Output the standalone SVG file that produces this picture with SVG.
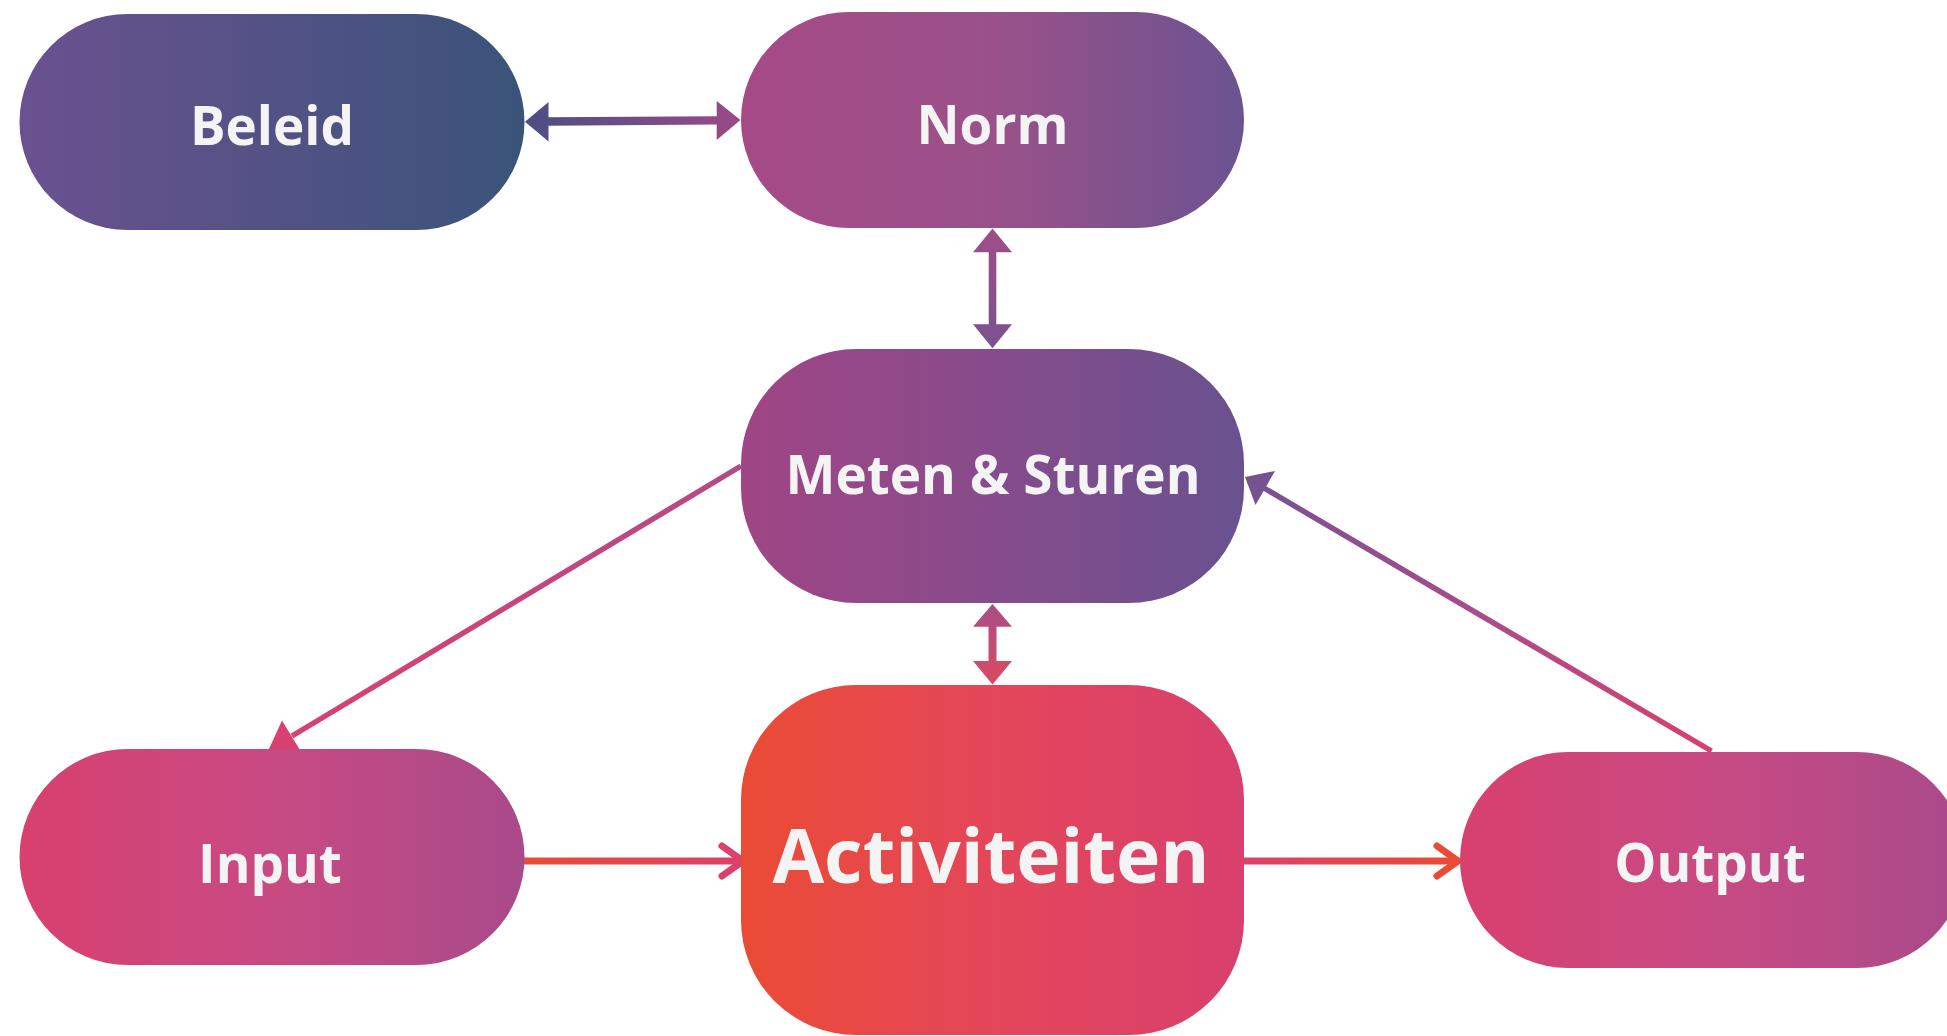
<svg xmlns="http://www.w3.org/2000/svg" width="1947" height="1036" viewBox="0 0 1947 1036">
  <style>
    .label { font-family: "Open Sans", "Noto Sans", "Liberation Sans", sans-serif; font-weight: 700; fill: #F4F4F4; text-anchor: middle; }
    .lbl53 { font-size: 53px; }
    .lbl75 { font-size: 75px; }
    .diag { fill: none; stroke-width: 5.5; }
    .flow { fill: none; stroke-width: 7; stroke-linecap: round; }
    .chev { fill: none; stroke-width: 7; stroke-linecap: round; stroke-linejoin: miter; }
  </style>
  <defs>
    <linearGradient id="gBeleid" x1="0" y1="0" x2="1" y2="0">
      <stop offset="0" stop-color="#6B5190"/>
      <stop offset="1" stop-color="#3A5379"/>
    </linearGradient>
    <linearGradient id="gNorm" x1="0" y1="0" x2="1" y2="0">
      <stop offset="0" stop-color="#A64A87"/>
      <stop offset="0.5" stop-color="#9A5189"/>
      <stop offset="1" stop-color="#6B5391"/>
    </linearGradient>
    <linearGradient id="gMeten" x1="0" y1="0" x2="1" y2="0">
      <stop offset="0" stop-color="#A04585"/>
      <stop offset="0.4" stop-color="#8C4A8A"/>
      <stop offset="1" stop-color="#69518F"/>
    </linearGradient>
    <linearGradient id="gAct" x1="0" y1="0" x2="1" y2="0">
      <stop offset="0" stop-color="#EA4B35"/>
      <stop offset="0.5" stop-color="#E4465A"/>
      <stop offset="1" stop-color="#D8406D"/>
    </linearGradient>
    <linearGradient id="gInput" x1="0" y1="0" x2="1" y2="0">
      <stop offset="0" stop-color="#D8406E"/>
      <stop offset="0.5" stop-color="#C84A83"/>
      <stop offset="1" stop-color="#A94A8A"/>
    </linearGradient>
    <linearGradient id="gOutput" x1="0" y1="0" x2="1" y2="0">
      <stop offset="0" stop-color="#D8406E"/>
      <stop offset="0.5" stop-color="#C84A83"/>
      <stop offset="1" stop-color="#A94A8A"/>
    </linearGradient>
    <linearGradient id="cBN" gradientUnits="userSpaceOnUse" x1="525" y1="0" x2="740" y2="0">
      <stop offset="0" stop-color="#4A4F82"/>
      <stop offset="1" stop-color="#9A4A88"/>
    </linearGradient>
    <linearGradient id="cNM" gradientUnits="userSpaceOnUse" x1="0" y1="228" x2="0" y2="349">
      <stop offset="0" stop-color="#A04D89"/>
      <stop offset="1" stop-color="#7B5190"/>
    </linearGradient>
    <linearGradient id="cMA" gradientUnits="userSpaceOnUse" x1="0" y1="604" x2="0" y2="685">
      <stop offset="0" stop-color="#A84E86"/>
      <stop offset="1" stop-color="#DC4A60"/>
    </linearGradient>
    <linearGradient id="cMI" gradientUnits="userSpaceOnUse" x1="741" y1="466" x2="285" y2="740">
      <stop offset="0" stop-color="#B44A88"/>
      <stop offset="1" stop-color="#D8416F"/>
    </linearGradient>
    <linearGradient id="cOM" gradientUnits="userSpaceOnUse" x1="1712" y1="751" x2="1250" y2="480">
      <stop offset="0" stop-color="#D8406E"/>
      <stop offset="0.5" stop-color="#A84D8A"/>
      <stop offset="1" stop-color="#765290"/>
    </linearGradient>
    <linearGradient id="cIA" gradientUnits="userSpaceOnUse" x1="521" y1="0" x2="744" y2="0">
      <stop offset="0" stop-color="#EA4B35"/>
      <stop offset="1" stop-color="#DB416A"/>
    </linearGradient>
    <linearGradient id="cAO" gradientUnits="userSpaceOnUse" x1="1244" y1="0" x2="1459" y2="0">
      <stop offset="0" stop-color="#DB416A"/>
      <stop offset="1" stop-color="#EA4B35"/>
    </linearGradient>
  </defs>

  <rect width="1947" height="1036" fill="#FFFFFF"/>

  <g id="connectors">
    <!-- Beleid <-> Norm -->
    <polygon id="c-beleid-norm" fill="url(#cBN)" points="525,121.7 548.5,102 548.5,117.3 716.7,116.2 716.7,101 740.5,120 716.7,140 716.7,124.5 548.5,125.8 548.5,141.5"/>
    <!-- Norm <-> Meten & Sturen -->
    <polygon id="c-norm-meten" fill="url(#cNM)" points="992.5,228.5 1012,252.3 996.3,252.3 996.3,324.3 1012,324.3 992.5,348.3 973,324.3 988.7,324.3 988.7,252.3 973,252.3"/>
    <!-- Meten & Sturen <-> Activiteiten -->
    <polygon id="c-meten-act" fill="url(#cMA)" points="992.5,604 1012,626.7 996.5,626.7 996.5,661 1012,661 992.5,684.5 973,661 988.5,661 988.5,626.7 973,626.7"/>
    <!-- Meten & Sturen -> Input -->
    <g id="c-meten-input">
      <line class="diag" stroke="url(#cMI)" x1="741" y1="466" x2="292" y2="736"/>
      <polygon fill="#D8416F" points="282,720.5 301.5,752.5 268,751"/>
    </g>
    <!-- Output -> Meten & Sturen -->
    <g id="c-output-meten">
      <line class="diag" stroke="url(#cOM)" x1="1711.5" y1="751" x2="1264" y2="488"/>
      <polygon fill="#775290" points="1275,471 1255.5,505 1245,477"/>
    </g>
    <!-- Input -> Activiteiten -->
    <g id="c-input-act">
      <line class="flow" stroke="url(#cIA)" x1="521" y1="861" x2="742" y2="861"/>
      <polyline class="chev" stroke="#DB416A" points="722,846 743,861 722,876"/>
    </g>
    <!-- Activiteiten -> Output -->
    <g id="c-act-output">
      <line x1="1244" y1="861" x2="1457" y2="861" stroke="url(#cAO)" stroke-width="7"/>
      <polyline class="chev" stroke="#EA4B35" points="1437,846 1458,861 1437,876"/>
    </g>
  </g>

  <g id="node-beleid">
    <rect x="19.5" y="14" width="505" height="216" rx="108" ry="108" fill="url(#gBeleid)"/>
    <text class="label lbl53" x="272" y="145">Beleid</text>
  </g>
  <g id="node-norm">
    <rect x="741" y="12" width="503" height="216" rx="108" ry="108" fill="url(#gNorm)"/>
    <text class="label lbl53" x="992.5" y="144">Norm</text>
  </g>
  <g id="node-meten">
    <rect x="741" y="349" width="503" height="254" rx="115" ry="115" fill="url(#gMeten)"/>
    <text class="label lbl53" x="993" y="494">Meten &amp; Sturen</text>
  </g>
  <g id="node-activiteiten">
    <rect x="741" y="685" width="503" height="350" rx="115" ry="115" fill="url(#gAct)"/>
    <text class="label lbl75" x="991" y="883">Activiteiten</text>
  </g>
  <g id="node-input">
    <rect x="19.5" y="749" width="505" height="216" rx="108" ry="108" fill="url(#gInput)"/>
    <text class="label lbl53" x="270" y="883">Input</text>
  </g>
  <g id="node-output">
    <rect x="1460" y="752" width="505" height="216" rx="108" ry="108" fill="url(#gOutput)"/>
    <text class="label lbl53" x="1710" y="882">Output</text>
  </g>
</svg>
